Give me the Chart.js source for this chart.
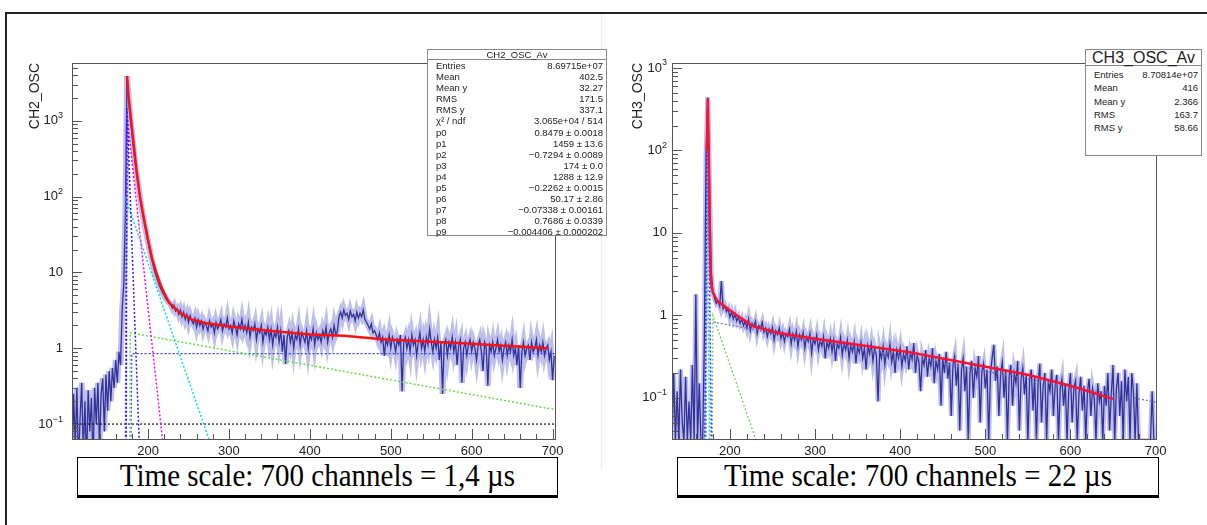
<!DOCTYPE html>
<html>
<head>
<meta charset="utf-8">
<script src="https://cdn.jsdelivr.net/npm/chart.js@4.4.1/dist/chart.umd.min.js"></script>
<style>
  body { margin: 0; background: #fff; width: 1207px; height: 525px; overflow: hidden; position: relative; font-family: "Liberation Sans", Arial, sans-serif; }
  canvas { position: absolute; top: 0; }
  .frame { position: absolute; left: 5px; top: 12px; width: 1220px; height: 530px; border-top: 2px solid #222; border-left: 2px solid #222; }
  .sep { position: absolute; left: 601px; top: 14px; width: 1px; height: 456px; background: #eee; }
  .stats { position: absolute; background: #fff; border: 1px solid #888; color: #222; box-sizing: border-box; }
  .stats .ttl { text-align: center; border-bottom: 1px solid #888; }
  .stats .row { display: flex; justify-content: space-between; }
  .tbox { position: absolute; top: 457px; height: 41px; box-sizing: border-box; border: 1.5px solid #000; border-bottom-width: 3px; background: #fff;
          font-family: "Liberation Serif", "Times New Roman", serif; font-size: 29px; line-height: 35px; text-align: center; color: #000; overflow: hidden; }
  .tbox span { display: inline-block; transform: scaleY(1.12); }
</style>
</head>
<body>
<div class="frame"></div>
<div class="sep"></div>
<canvas id="left" width="600" height="480" style="left:0;width:600px;height:480px"></canvas>
<canvas id="right" width="607" height="480" style="left:600px;width:607px;height:480px"></canvas>
<div id="stats2" class="stats" style="left:427px;top:49px;width:180px;height:187px;font-size:9.5px"></div>
<div id="stats3" class="stats" style="left:1085px;top:49px;width:117px;height:107px;font-size:9.5px"></div>
<div class="tbox" style="left:77px;width:481px"><span>Time scale: 700 channels = 1,4 µs</span></div>
<div class="tbox" style="left:677px;width:482px"><span>Time scale: 700 channels = 22 µs</span></div>
<script>
// ---- CH2 (left) ----
const ch2Start = 106, ch2Step = 2;
const ch2Counts = [
  0.03,0.25,0.05,0.3,0.03,0.12,0.35,0.04,0.2,0.03,
  0.28,0.08,0.22,0.03,0.3,0.1,0.35,0.05,0.25,0.4,
  0.08,0.45,0.15,0.5,0.2,0.55,0.3,0.7,0.35,0.9,
  0.6,3.2,7,60,3900,2100,1100,700,430,280,
  200,140,100,72,55,42,32,25,20,16,
  13,10.5,9,7.8,6.8,6,5.4,5,4.5,4.2,
  4,3.8,3.4,3.7,3.1,3.3,2.8,3.2,2.6,3.0,
  2.4,2.8,2.2,2.7,2.3,2.1,2.5,1.9,2.4,2.0,
  2.3,1.8,2.2,2.0,1.7,2.3,1.9,2.1,1.6,2.2,
  1.8,2.0,2.4,1.7,2.1,1.9,2.5,1.8,2.0,1.6,
  2.3,1.9,1.5,2.1,1.8,2.4,1.7,2.0,1.6,2.2,
  1.4,1.9,1.7,2.1,1.3,1.8,1.6,2.0,1.2,1.7,
  1.5,1.9,1.3,1.8,1.1,1.6,1.4,1.9,1.2,1.7,
  0.9,1.5,0.62,1.4,1.7,1.2,1.6,1.0,1.5,1.3,
  1.8,1.1,1.6,1.4,1.2,1.7,1.0,1.5,1.3,1.8,
  1.1,1.6,1.3,1.5,1.2,1.7,1.4,1.9,1.2,1.6,
  1.8,1.4,2.0,1.5,1.7,2.6,3.0,2.5,3.2,2.7,
  2.9,2.4,3.1,2.6,2.8,2.3,3.0,2.5,2.9,2.6,
  3.2,2.4,2.2,2.0,1.8,2.1,1.6,1.7,1.5,1.3,
  1.6,1.2,1.4,0.8,1.3,1.1,1.5,1.0,1.4,1.2,
  0.9,1.3,1.1,1.5,0.27,1.2,1.4,1.0,1.3,0.9,
  1.5,1.1,1.3,0.8,1.2,1.6,1.0,1.3,0.9,1.4,
  1.1,1.8,1.2,0.9,1.3,1.0,1.4,0.7,1.2,0.25,
  1.1,1.3,0.8,1.2,1.0,1.4,0.9,1.2,0.6,1.1,
  1.3,0.35,1.0,1.2,0.8,1.1,1.3,0.9,1.2,1.0,
  0.7,1.1,1.3,0.9,0.5,1.2,1.0,0.32,1.1,0.9,
  1.2,0.8,1.0,1.3,0.9,1.1,0.7,1.0,1.2,0.8,
  1.1,0.9,1.3,0.8,1.0,0.6,1.1,0.3,0.9,1.2,
  0.8,1.0,1.1,0.7,1.2,0.9,1.0,1.3,0.8,1.1,
  0.9,1.2,0.8,1.0,1.1,0.7,0.9,0.38,0.8
];
// total fit (red) and its components
const ch2RedX = [174,176,180,186,190,195,200,205,210,215,220,226,240,254,270,301,350,400,442,490,550,584,640,694];
const ch2RedY = [3900,2000,800,210,100,50,27,15,10,7,5.3,4,2.9,2.4,2.15,1.93,1.7,1.52,1.46,1.31,1.22,1.17,1.08,1.0];
const ch2BlueX = [173,174,189],       ch2BlueY = [0.06,1459,0.06];
const ch2MagX = [172.5,173.5,218],    ch2MagY = [0.06,1288,0.06];
const ch2CyanX = [172,173,276],       ch2CyanY = [0.06,90,0.06];
const ch2GreenX = [177.5,178,703],    ch2GreenY = [0.06,1.6,0.155];
const ch2FlatX = [179,180,703],       ch2FlatY = [0.06,0.85,0.85];
const ch2BaseX = [106,703],           ch2BaseY = [0.1,0.1];

// ---- CH3 (right) ----
const ch3Start = 132, ch3Step = 2;
const ch3Counts = [
  0.03,0.2,0.03,0.12,0.03,0.22,0.05,0.03,0.18,0.03,
  0.09,0.03,0.25,0.03,1.8,0.03,0.15,0.03,0.03,0.5,
  90,440,45,3.5,1.9,1.6,1.4,1.5,1.3,2.6,
  1.2,1.3,1.1,1.2,0.95,1.1,0.9,1.05,0.85,0.95,
  0.8,0.9,0.75,0.85,0.7,0.9,0.65,0.8,0.72,0.85,
  0.6,0.75,0.7,0.82,0.62,0.7,0.55,0.68,0.6,0.72,
  0.5,0.65,0.58,0.7,0.52,0.62,0.48,0.6,0.55,0.68,
  0.45,0.6,0.5,0.64,0.42,0.58,0.5,0.62,0.4,0.55,
  0.48,0.6,0.35,0.52,0.45,0.58,0.38,0.5,0.42,0.55,
  0.3,0.48,0.4,0.52,0.36,0.5,0.28,0.45,0.4,0.54,
  0.33,0.46,0.38,0.5,0.3,0.44,0.36,0.48,0.26,0.42,
  0.35,0.47,0.3,0.4,0.22,0.43,0.34,0.45,0.28,0.4,
  0.33,0.09,0.38,0.3,0.42,0.25,0.37,0.31,0.45,0.27,
  0.36,0.2,0.38,0.3,0.4,0.24,0.34,0.28,0.42,0.22,
  0.35,0.29,0.46,0.2,0.33,0.27,0.12,0.31,0.25,0.38,
  0.18,0.3,0.24,0.4,0.15,0.28,0.22,0.34,0.08,0.3,
  0.2,0.36,0.17,0.27,0.06,0.25,0.32,0.14,0.26,0.04,
  0.22,0.3,0.12,0.24,0.03,0.2,0.28,0.1,0.23,0.18,
  0.32,0.05,0.21,0.26,0.13,0.22,0.03,0.19,0.3,0.44,
  0.16,0.24,0.06,0.2,0.27,0.1,0.22,0.03,0.18,0.25,
  0.08,0.2,0.15,0.28,0.04,0.17,0.23,0.11,0.19,0.03,
  0.16,0.22,0.07,0.18,0.03,0.15,0.26,0.05,0.14,0.2,
  0.03,0.16,0.12,0.22,0.06,0.14,0.19,0.03,0.13,0.17,
  0.08,0.15,0.03,0.12,0.2,0.05,0.13,0.16,0.03,0.11,
  0.18,0.07,0.14,0.03,0.12,0.17,0.06,0.13,0.1,0.03,
  0.15,0.09,0.12,0.03,0.14,0.08,0.2,0.04,0.11,0.25,
  0.03,0.13,0.2,0.06,0.16,0.03,0.22,0.09,0.18,0.03,
  0.2,0.12,0.03,0.15,0.03,0.03,0.03,0.03,0.03,0.03,
  0.03,0.03,0.12,0.03,0.03
];
const ch3RedX = [173,174,175,176,177,178,180,185,195,208,227,257,300,350,409,450,508,550,602,650];
const ch3RedY = [100,430,120,20,4.5,2.4,1.9,1.5,1.25,1.0,0.74,0.61,0.52,0.44,0.36,0.30,0.23,0.19,0.138,0.097];
const ch3BlueX = [170.5,173,174.5,178.3], ch3BlueY = [0.03,95,95,0.03];
const ch3CyanX = [172,173.5,176],         ch3CyanY = [0.03,40,0.03];
const ch3GreenX = [179.5,180,231],        ch3GreenY = [0.03,1.0,0.03];
const ch3TailX = [180,700],               ch3TailY = [0.83,0.089];

const xTickLabels = [200, 300, 400, 500, 600, 700];
const yTickValues = [0.1, 1, 10, 100, 1000];

const ch2StatNames = ['Entries','Mean','Mean y','RMS','RMS y','χ² / ndf','p0','p1','p2','p3','p4','p5','p6','p7','p8','p9'];
const ch2StatValues = ['8.69715e+07','402.5','32.27','171.5','337.1','3.065e+04 / 514','0.8479 ± 0.0018','1459 ± 13.6',
  '−0.7294 ± 0.0089','174 ± 0.0','1288 ± 12.9','−0.2262 ± 0.0015','50.17 ± 2.86','−0.07338 ± 0.00161',
  '0.7686 ± 0.0339','−0.004406 ± 0.000202'];
const ch3StatNames = ['Entries','Mean','Mean y','RMS','RMS y'];
const ch3StatValues = ['8.70814e+07','416','2.366','163.7','58.66'];

function pairs(xs, ys) { return ys.map((v, i) => ({ x: xs[i], y: v })); }
function hist(start, step, ys) { return ys.map((v, i) => ({ x: start + i * step, y: v })); }
function line(data, color, width, dash) {
  return { data: data, borderColor: color, borderWidth: width, borderDash: dash || [], pointRadius: 0, tension: 0, fill: false };
}

// ROOT-like frame: ticks inside, labels, axis title
const rootAxes = {
  id: 'rootAxes',
  afterDraw(chart) {
    const o = chart.options.plugins.rootAxes;
    const { ctx, chartArea: a } = chart;
    const x = chart.scales.x, y = chart.scales.y;
    ctx.save();
    ctx.strokeStyle = '#555';
    ctx.lineWidth = 1;
    ctx.strokeRect(a.left + 0.5, a.top + 0.5, a.right - a.left, a.bottom - a.top);
    ctx.beginPath();
    for (let v = Math.ceil(x.min / 20) * 20; v <= x.max; v += 20) {
      const px = Math.round(x.getPixelForValue(v)) + 0.5;
      const len = v % 100 === 0 ? 10 : 5;
      ctx.moveTo(px, a.bottom); ctx.lineTo(px, a.bottom - len);
    }
    for (let e = Math.floor(Math.log10(y.min)); e <= Math.ceil(Math.log10(y.max)); e++) {
      for (let m = 1; m <= 9; m++) {
        const v = m * Math.pow(10, e);
        if (v < y.min || v > y.max) continue;
        const py = Math.round(y.getPixelForValue(v)) + 0.5;
        ctx.moveTo(a.left, py); ctx.lineTo(a.left + (m === 1 ? 10 : 6), py);
      }
    }
    ctx.stroke();

    ctx.fillStyle = '#222';
    ctx.font = '13px "Liberation Sans", Arial, sans-serif';
    ctx.textAlign = 'center';
    ctx.textBaseline = 'middle';
    xTickLabels.forEach(v => ctx.fillText(String(v), x.getPixelForValue(v), a.bottom + 12));

    yTickValues.forEach(v => {
      const py = y.getPixelForValue(v);
      const e = Math.round(Math.log10(v));
      const right = a.left - o.gap;
      ctx.textAlign = 'right';
      if (e === 0 || e === 1) {
        ctx.font = '13px "Liberation Sans", Arial, sans-serif';
        ctx.fillText(e === 0 ? '1' : '10', right, py);
      } else {
        const sup = e < 0 ? '−' + (-e) : String(e);
        ctx.font = '9px "Liberation Sans", Arial, sans-serif';
        const w = ctx.measureText(sup).width;
        ctx.fillText(sup, right, py - 5);
        ctx.font = '13px "Liberation Sans", Arial, sans-serif';
        ctx.fillText('10', right - w, py);
      }
    });

    ctx.translate(a.left - o.titleOffset, a.top);
    ctx.rotate(-Math.PI / 2);
    ctx.textAlign = 'right';
    ctx.font = '14px "Liberation Sans", Arial, sans-serif';
    ctx.fillText(o.title, 0, 0);
    ctx.restore();
  }
};

function makeChart(id, cfg) {
  return new Chart(document.getElementById(id), {
    type: 'line',
    data: { datasets: cfg.datasets },
    plugins: [rootAxes],
    options: {
      responsive: false, animation: false, devicePixelRatio: 1,
      layout: { padding: { left: 0, top: 63, right: cfg.padRight, bottom: 0 } },
      plugins: { legend: { display: false }, tooltip: { enabled: false },
                 rootAxes: { gap: cfg.gap, title: cfg.title, titleOffset: cfg.titleOffset } },
      scales: {
        x: { type: 'linear', min: cfg.xMin, max: cfg.xMax, grid: { display: false }, border: { display: false },
             ticks: { display: false }, afterFit(s) { s.height = 41; } },
        y: { type: 'logarithmic', min: cfg.yMin, max: cfg.yMax, grid: { display: false }, border: { display: false },
             ticks: { display: false }, afterFit(s) { s.width = 72; } }
      }
    }
  });
}

const navy = 'rgba(25,25,140,0.85)';
const errBand = 'rgba(95,95,205,0.4)';
makeChart('left', {
  xMin: 106, xMax: 703, yMin: 0.0635, yMax: 5800, padRight: 45, gap: 9, title: 'CH2_OSC', titleOffset: 37,
  datasets: [
    line(pairs(ch2RedX, ch2RedY), '#ff1010', 2.5),
    line(pairs(ch2BlueX, ch2BlueY), '#2020ff', 1.5, [2, 2]),
    line(pairs(ch2MagX, ch2MagY), '#ff00ff', 1.5, [2, 2]),
    line(pairs(ch2CyanX, ch2CyanY), '#00dddd', 1.5, [2, 2]),
    line(pairs(ch2GreenX, ch2GreenY), '#66dd44', 1.5, [2, 2]),
    line(pairs(ch2FlatX, ch2FlatY), '#4040ff', 1.2, [2, 2]),
    line(pairs(ch2BaseX, ch2BaseY), '#111', 1.2, [2, 2]),
    line(hist(ch2Start, ch2Step, ch2Counts), navy, 1.3),
    line(hist(ch2Start, ch2Step, ch2Counts), errBand, 6)
  ]
});
makeChart('right', {
  xMin: 132, xMax: 700.5, yMin: 0.0316, yMax: 1150, padRight: 51, gap: 5, title: 'CH3_OSC', titleOffset: 34,
  datasets: [
    line(pairs(ch3RedX, ch3RedY), '#ff1030', 2.5),
    line(pairs(ch3BlueX, ch3BlueY), '#3030ff', 1.5, [2, 2]),
    line(pairs(ch3CyanX, ch3CyanY), '#33bbee', 1.5, [2, 2]),
    line(pairs(ch3GreenX, ch3GreenY), '#66cc55', 1.2, [2, 2]),
    line(pairs(ch3TailX, ch3TailY), '#7070b0', 1.2, [2, 2]),
    line(hist(ch3Start, ch3Step, ch3Counts), navy, 1.3),
    line(hist(ch3Start, ch3Step, ch3Counts), errBand, 5)
  ]
});

// stats boxes
function statsBox(id, title, names, values, titleSize, titleH, rowH, padTop) {
  const box = document.getElementById(id);
  let html = '<div class="ttl" style="font-size:' + titleSize + 'px;height:' + titleH + 'px;line-height:' + titleH + 'px">' + title + '</div>';
  html += '<div style="padding-top:' + padTop + 'px">';
  names.forEach((n, i) => {
    html += '<div class="row" style="height:' + rowH + 'px;line-height:' + rowH + 'px;padding:0 3px 0 8px"><span>' + n + '</span><span>' + values[i] + '</span></div>';
  });
  box.innerHTML = html + '</div>';
}
statsBox('stats2', 'CH2_OSC_Av', ch2StatNames, ch2StatValues, 9.5, 9, 11.1, 0);
statsBox('stats3', 'CH3_OSC_Av', ch3StatNames, ch3StatValues, 16, 15, 13.3, 2);
</script>
</body>
</html>
